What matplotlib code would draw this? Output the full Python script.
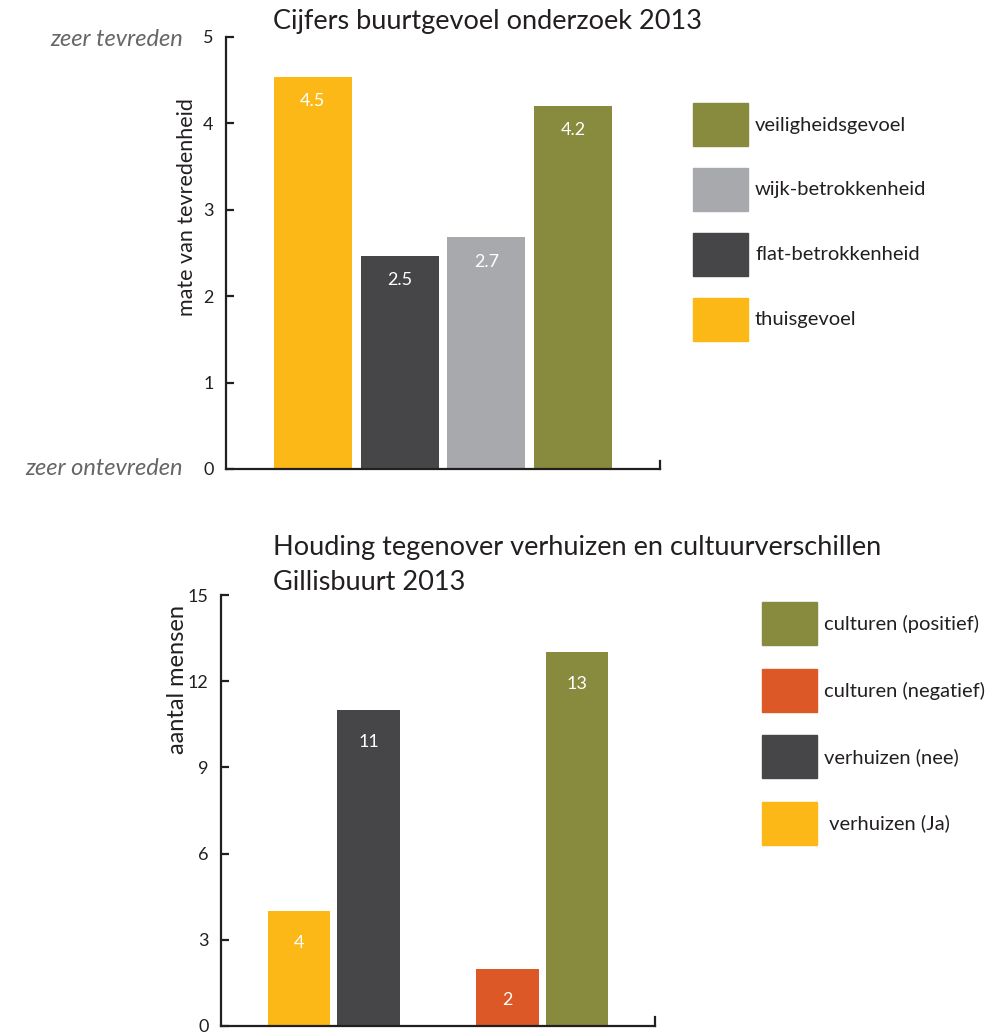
import matplotlib
matplotlib.use("Agg")
import matplotlib.pyplot as plt
from matplotlib.patches import Rectangle

plt.rcParams["font.family"] = ["Lato", "DejaVu Sans"]

# chart 1: buurtgevoel
cats1 = ["thuisgevoel", "flat-betrokkenheid", "wijk-betrokkenheid", "veiligheidsgevoel"]
vals1 = [4.54, 2.47, 2.68, 4.2]
labels1 = ["4.5", "2.5", "2.7", "4.2"]
colors1 = ["#fbb817", "#464648", "#a8a9ac", "#888a3e"]

# chart 2: verhuizen / culturen
cats2 = [" verhuizen (Ja)", "verhuizen (nee)", "culturen (negatief)", "culturen (positief)"]
vals2 = [4, 11, 2, 13]
labels2 = ["4", "11", "2", "13"]
colors2 = ["#fbb817", "#464648", "#dc5827", "#888a3e"]
xpos2 = [0, 1, 3, 4]

W, H = 1002, 1035
ink = "#231f20"
fig = plt.figure(figsize=(W / 100, H / 100), dpi=100)


def fx(px):
    return px / W


def fy(py):
    return 1 - py / H


def style_axes(ax):
    for s in ["top", "right"]:
        ax.spines[s].set_visible(False)
    for s in ["left", "bottom"]:
        ax.spines[s].set_color(ink)
        ax.spines[s].set_linewidth(1.6)
    ax.tick_params(axis="y", direction="in", length=6, width=1.6, pad=9,
                   labelsize=13, colors=ink)
    ax.set_xticks([])


def legend(cats, colors, x0, y0, step):
    for i, (c, col) in enumerate(zip(cats, colors)):
        top = y0 + i * step
        fig.patches.append(Rectangle((fx(x0), fy(top + 43)), fx(55), 43 / H,
                                     transform=fig.transFigure, color=col))
        fig.text(fx(x0 + 62), fy(top + 22), c, fontsize=14.5, color=ink, va="center")


# top chart
ax1 = fig.add_axes([fx(226), fy(469), fx(660 - 226), (469 - 37) / H])
x1 = list(range(len(vals1)))
ax1.bar(x1, vals1, width=0.9, color=colors1)
for x, v, t in zip(x1, vals1, labels1):
    ax1.text(x, v - 0.28, t, color="white", ha="center", va="center", fontsize=13)
ax1.set_xlim(-1, 4)
ax1.set_ylim(0, 5)
ax1.set_yticks(range(6))
style_axes(ax1)
ax1.axvline(4, ymin=0, ymax=0.018, color=ink, lw=1.6, clip_on=False)
fig.text(fx(273), fy(22), "Cijfers buurtgevoel onderzoek 2013", fontsize=19.5,
         color=ink, va="center")
fig.text(fx(187), fy(207), "mate van tevredenheid", rotation=90, fontsize=15.5,
         color=ink, ha="center", va="center")
fig.text(fx(183), fy(40), "zeer tevreden", style="italic", fontsize=17,
         color="#666666", ha="right", va="center")
fig.text(fx(183), fy(469), "zeer ontevreden", style="italic", fontsize=17,
         color="#666666", ha="right", va="center")
legend(cats1[::-1], colors1[::-1], 693, 103, 65)

# bottom chart
ax2 = fig.add_axes([fx(221), fy(1026), fx(655 - 221), (1026 - 595) / H])
ax2.bar(xpos2, vals2, width=0.9, color=colors2)
for x, v, t in zip(xpos2, vals2, labels2):
    ax2.text(x, v - 1.1, t, color="white", ha="center", va="center", fontsize=13)
ax2.set_xlim(-1.12, 5.12)
ax2.set_ylim(0, 15)
ax2.set_yticks(range(0, 16, 3))
style_axes(ax2)
ax2.axvline(5.12, ymin=0, ymax=0.02, color=ink, lw=1.6, clip_on=False)
fig.text(fx(273), fy(548), "Houding tegenover verhuizen en cultuurverschillen",
         fontsize=19.5, color=ink, va="center")
fig.text(fx(273), fy(582), "Gillisbuurt 2013", fontsize=19.5, color=ink, va="center")
fig.text(fx(178), fy(680), "aantal mensen", rotation=90, fontsize=17,
         color=ink, ha="center", va="center")
legend(cats2[::-1], colors2[::-1], 762, 602, 66.5)

fig.savefig("out.png", dpi=100)
